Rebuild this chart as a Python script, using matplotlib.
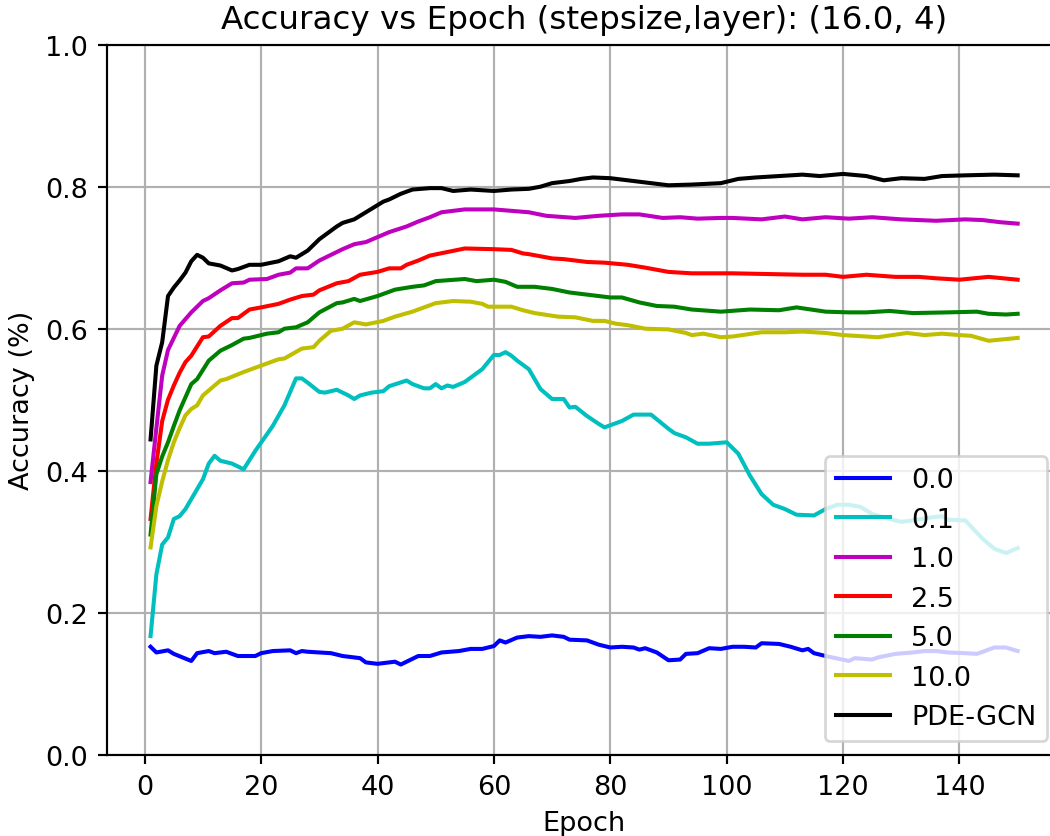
import matplotlib
matplotlib.use("Agg")
import matplotlib.pyplot as plt

# ---- data ----
labels = ["0.0", "0.1", "1.0", "2.5", "5.0", "10.0", "PDE-GCN"]
colors = ["b", "c", "m", "r", "g", "y", "k"]

ep_blue = [1, 2, 4, 5, 8, 9, 11, 12, 14, 16, 19, 20, 22, 25, 26, 27, 28, 30, 32, 34, 37, 38, 40, 43, 44, 46, 47, 49,
           51, 54, 56, 58, 60, 61, 62, 64, 66, 68, 70, 72, 73, 76, 78, 80, 82, 84, 85, 86, 88, 90, 92, 93, 95, 97, 99,
           101, 103, 105, 106, 109, 111, 113, 114, 115, 117, 121, 122, 125, 126, 129, 132, 134, 136, 138, 141, 143, 146,
           148, 150]
acc_blue = [0.152, 0.144, 0.147, 0.142, 0.132, 0.143, 0.146, 0.143, 0.145, 0.139, 0.139, 0.143, 0.146, 0.147, 0.143,
            0.146, 0.145, 0.144, 0.143, 0.139, 0.136, 0.130, 0.128, 0.131, 0.127, 0.135, 0.139, 0.139,
            0.144, 0.146, 0.149, 0.149, 0.153, 0.161, 0.158, 0.165, 0.167, 0.166, 0.168, 0.166, 0.162, 0.161, 0.155,
            0.151, 0.152, 0.151, 0.148, 0.150, 0.144, 0.133, 0.134, 0.142, 0.143, 0.150, 0.149,
            0.152, 0.152, 0.151, 0.157, 0.156, 0.152, 0.147, 0.149, 0.143, 0.139, 0.132, 0.136, 0.134, 0.137, 0.142,
            0.144, 0.146, 0.146, 0.144, 0.143, 0.142, 0.151, 0.151, 0.146]

ep_cyan = [1, 2, 3, 4, 5, 6, 7, 8, 9, 10, 11, 12, 13, 15, 17, 19, 22, 24, 26, 27, 28, 30, 31, 33, 35, 36, 37, 39, 41,
           42, 45, 46, 48, 49, 50, 51, 52, 53, 55, 58, 60, 61, 62, 63, 64, 66, 68, 70, 72, 73, 74, 76, 78, 79, 82, 84,
           87, 90, 91, 93, 95, 97, 100, 102, 104, 106, 108, 110, 112, 115, 117, 119, 121, 123, 125, 127, 130, 132, 135,
           137, 138, 141, 144, 146, 148, 150]
acc_cyan = [0.167, 0.254, 0.296, 0.306, 0.332, 0.336, 0.346, 0.360, 0.374, 0.388, 0.410, 0.421, 0.414, 0.410, 0.402,
            0.428, 0.463, 0.492, 0.530, 0.530, 0.524, 0.511, 0.510, 0.514, 0.506, 0.501, 0.506, 0.510, 0.512,
            0.519, 0.527, 0.522, 0.516, 0.516, 0.522, 0.516, 0.520, 0.518, 0.525, 0.543, 0.563, 0.563, 0.567, 0.562,
            0.555, 0.543, 0.515, 0.501, 0.501, 0.489, 0.490, 0.477, 0.466, 0.461, 0.470, 0.479,
            0.479, 0.459, 0.453, 0.447, 0.438, 0.438, 0.440, 0.424, 0.393, 0.367, 0.352, 0.346, 0.338, 0.337, 0.346,
            0.352, 0.352, 0.349, 0.339, 0.334, 0.328, 0.330, 0.334, 0.336, 0.331, 0.330, 0.304, 0.290, 0.284, 0.291]

ep_mag = [1, 2, 3, 4, 6, 8, 10, 11, 13, 15, 17, 18, 21, 23, 25, 26, 28, 30, 34, 36, 38, 40, 42, 45, 47, 49, 51, 55, 60,
          63, 66, 69, 74, 78, 82, 85, 89, 92, 95, 99, 101, 106, 110, 113, 117, 121, 125, 130, 136, 141, 144, 147, 150]
acc_mag = [0.384, 0.460, 0.534, 0.570, 0.604, 0.623, 0.639, 0.643, 0.654, 0.664, 0.665, 0.669, 0.670, 0.676, 0.679,
           0.685, 0.685, 0.696, 0.712, 0.719, 0.722, 0.729, 0.736, 0.744, 0.751, 0.757, 0.764, 0.768, 0.768,
           0.766, 0.764, 0.759, 0.756, 0.759, 0.761, 0.761, 0.756, 0.757, 0.755, 0.756, 0.756, 0.754, 0.758, 0.754,
           0.757, 0.755, 0.757, 0.754, 0.752, 0.754, 0.753, 0.750, 0.748]

ep_red = [1, 2, 3, 4, 5, 6, 7, 8, 10, 11, 13, 15, 16, 18, 20, 23, 25, 27, 29, 30, 33, 35, 37, 40, 42, 44, 45, 47, 49,
          52, 55, 60, 63, 65, 66, 70, 72, 76, 79, 83, 86, 90, 94, 99, 101, 107, 113, 117, 120, 124, 129, 133, 136, 140,
          145, 150]
acc_red = [0.332, 0.410, 0.470, 0.500, 0.520, 0.538, 0.553, 0.562, 0.588, 0.589, 0.604, 0.615, 0.615, 0.627, 0.630,
           0.635, 0.641, 0.646, 0.648, 0.654, 0.664, 0.667, 0.676, 0.680, 0.685, 0.685, 0.690, 0.696, 0.703,
           0.708, 0.713, 0.712, 0.711, 0.706, 0.705, 0.699, 0.698, 0.694, 0.693, 0.690, 0.686, 0.680, 0.678, 0.678,
           0.678, 0.677, 0.676, 0.676, 0.673, 0.676, 0.673, 0.673, 0.671, 0.669, 0.673, 0.669]

ep_green = [1, 2, 3, 4, 5, 6, 8, 9, 11, 13, 15, 17, 18, 21, 23, 24, 26, 28, 30, 33, 34, 36, 37, 40, 43, 46, 48, 50, 55,
            57, 60, 62, 64, 67, 70, 73, 76, 80, 82, 85, 88, 91, 94, 99, 104, 109, 112, 117, 121, 124, 128, 132, 138,
            143, 145, 148, 150]
acc_green = [0.310, 0.395, 0.420, 0.440, 0.463, 0.485, 0.522, 0.529, 0.555, 0.569, 0.577, 0.586, 0.587, 0.593, 0.595,
             0.600, 0.602, 0.609, 0.623, 0.636, 0.637, 0.642, 0.639, 0.646, 0.655, 0.659, 0.661, 0.667, 0.670,
             0.667, 0.669, 0.666, 0.659, 0.659, 0.656, 0.651, 0.648, 0.644, 0.644, 0.637, 0.632, 0.631, 0.627, 0.624,
             0.627, 0.626, 0.630, 0.624, 0.623, 0.623, 0.625, 0.622, 0.623, 0.624, 0.621, 0.620, 0.621]

ep_yel = [1, 2, 3, 4, 5, 6, 7, 8, 9, 10, 13, 14, 17, 20, 23, 24, 27, 29, 30, 32, 34, 36, 38, 41, 43, 46, 48, 50, 53,
          56, 58, 59, 63, 65, 67, 71, 74, 77, 79, 81, 83, 86, 90, 93, 94, 96, 99, 101, 106, 110, 113, 117, 120, 126,
          131, 134, 137, 140, 142, 145, 150]
acc_yel = [0.292, 0.350, 0.385, 0.415, 0.440, 0.460, 0.478, 0.487, 0.492, 0.506, 0.527, 0.529, 0.539, 0.548, 0.557,
           0.558, 0.572, 0.574, 0.583, 0.597, 0.600, 0.609, 0.606, 0.611, 0.617, 0.624, 0.630, 0.636, 0.639,
           0.638, 0.635, 0.631, 0.631, 0.626, 0.622, 0.617, 0.616, 0.611, 0.611, 0.607, 0.605, 0.600, 0.599, 0.594,
           0.591, 0.593, 0.588, 0.589, 0.595, 0.595, 0.596, 0.594, 0.591, 0.588, 0.594, 0.591, 0.593, 0.591, 0.590,
           0.583, 0.587]

ep_blk = [1, 2, 3, 4, 5, 6, 7, 8, 9, 10, 11, 13, 15, 16, 18, 20, 23, 25, 26, 28, 30, 33, 34, 36, 39, 41, 42, 44, 46,
          49, 51, 53, 56, 60, 63, 66, 68, 70, 73, 75, 77, 80, 84, 87, 90, 94, 99, 102, 105, 109, 113, 116, 120, 124,
          127, 130, 134, 137, 141, 146, 150]
acc_blk = [0.444, 0.548, 0.581, 0.646, 0.658, 0.668, 0.679, 0.695, 0.704, 0.700, 0.692, 0.689, 0.682, 0.684, 0.690,
           0.690, 0.695, 0.702, 0.700, 0.710, 0.726, 0.744, 0.749, 0.754, 0.769, 0.779, 0.782, 0.790, 0.796,
           0.798, 0.798, 0.794, 0.796, 0.794, 0.796, 0.797, 0.800, 0.805, 0.808, 0.811, 0.813, 0.812, 0.808, 0.805,
           0.802, 0.803, 0.805, 0.811, 0.813, 0.815, 0.817, 0.815, 0.818, 0.815, 0.809, 0.812, 0.811, 0.815, 0.816,
           0.817, 0.816]

series_x = [ep_blue, ep_cyan, ep_mag, ep_red, ep_green, ep_yel, ep_blk]
series_y = [acc_blue, acc_cyan, acc_mag, acc_red, acc_green, acc_yel, acc_blk]

title = "Accuracy vs Epoch (stepsize,layer): (16.0, 4)"

# ---- style: matplotlib defaults scaled up ----
k = 1.95
plt.rcParams.update({
    "font.size": 10 * k,
    "lines.linewidth": 1.5 * k,
    "axes.linewidth": 0.8 * k,
    "grid.linewidth": 0.8 * k,
    "xtick.major.size": 3.5 * k, "ytick.major.size": 3.5 * k,
    "xtick.major.width": 0.8 * k, "ytick.major.width": 0.8 * k,
    "xtick.major.pad": 3.5 * k, "ytick.major.pad": 3.5 * k,
    "axes.titlepad": 6.0 * k,
    "axes.labelpad": 4.0 * k,
    "patch.linewidth": 1.0 * k,
})

W, H = 1050, 837
fig = plt.figure(figsize=(W / 100, H / 100), dpi=100)
left, right, top, bottom = 107.2, 1061.0, 45.7, 755.7
ax = fig.add_axes([left / W, 1 - bottom / H, (right - left) / W, (bottom - top) / H])

for xs, ys, c, lab in zip(series_x, series_y, colors, labels):
    ax.plot(xs, ys, color=c, label=lab)

ax.set_xlim(-6.45, 157.45)
ax.set_ylim(0.0, 1.0)
ax.set_xticks(range(0, 141, 20))
ax.set_yticks([0.0, 0.2, 0.4, 0.6, 0.8, 1.0])
ax.grid(True, color="#b0b0b0")
ax.set_axisbelow(True)
ax.spines["right"].set_visible(False)

ax.set_xlabel("Epoch")
ax.set_ylabel("Accuracy (%)")
ax.set_title(title, fontsize="large")

ax.legend(loc="lower right", framealpha=0.8)

fig.savefig("out.png", dpi=100)
